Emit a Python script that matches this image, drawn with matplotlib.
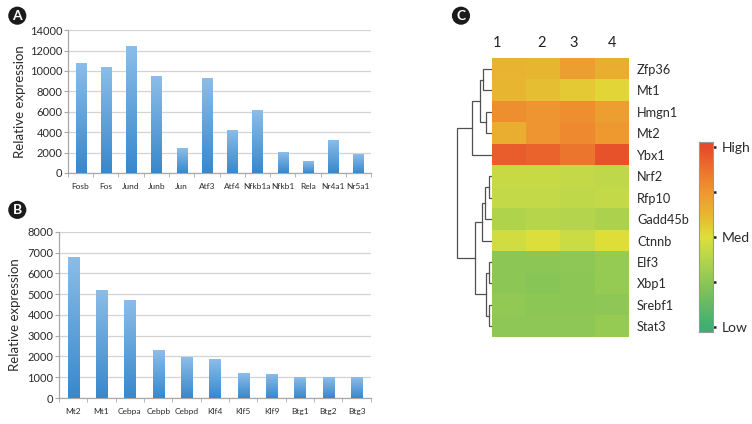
import matplotlib
matplotlib.use('Agg')
import matplotlib.pyplot as plt
import numpy as np
from matplotlib.colors import LinearSegmentedColormap

# panel A
genes_a = ['Fosb', 'Fos', 'Jund', 'Junb', 'Jun', 'Atf3', 'Atf4', 'Nfkb1a', 'Nfkb1', 'Rela', 'Nr4a1', 'Nr5a1']
expr_a = [10800, 10400, 12450, 9500, 2400, 9300, 4250, 6150, 2050, 1150, 3250, 1850]

# panel B
genes_b = ['Mt2', 'Mt1', 'Cebpa', 'Cebpb', 'Cebpd', 'Klf4', 'Klf5', 'Klf9', 'Btg1', 'Btg2', 'Btg3']
expr_b = [6800, 5200, 4720, 2300, 1950, 1860, 1200, 1160, 1000, 1000, 990]

# panel C heatmap (0 = low, 1 = high)
heat_genes = ['Zfp36', 'Mt1', 'Hmgn1', 'Mt2', 'Ybx1', 'Nrf2', 'Rfp10', 'Gadd45b',
              'Ctnnb', 'Elf3', 'Xbp1', 'Srebf1', 'Stat3']
heat_cols = ['1', '2', '3', '4']
heat_vals = [
    [0.64, 0.63, 0.72, 0.66],
    [0.63, 0.60, 0.57, 0.53],
    [0.78, 0.76, 0.78, 0.72],
    [0.66, 0.76, 0.80, 0.74],
    [0.94, 0.92, 0.86, 0.97],
    [0.43, 0.43, 0.42, 0.41],
    [0.42, 0.42, 0.41, 0.42],
    [0.36, 0.38, 0.37, 0.35],
    [0.46, 0.49, 0.44, 0.50],
    [0.25, 0.25, 0.26, 0.28],
    [0.25, 0.24, 0.25, 0.28],
    [0.27, 0.25, 0.25, 0.26],
    [0.26, 0.26, 0.26, 0.28],
]
# row clustering: (left node, right node, distance); new nodes numbered from 13 on
linkage = [
    (0, 1, 0.26),     # 13
    (2, 3, 0.17),     # 14
    (13, 14, 0.34),   # 15
    (15, 4, 0.57),    # 16
    (5, 6, 0.09),     # 17
    (17, 7, 0.20),    # 18
    (18, 8, 0.29),    # 19
    (9, 10, 0.09),    # 20
    (11, 12, 0.09),   # 21
    (20, 21, 0.17),   # 22
    (19, 22, 0.49),   # 23
    (16, 23, 1.00),   # 24
]
legend_ticks = [0, 0.25, 0.5, 0.75, 1]
legend_labels = ['Low', '', 'Med', '', 'High']

BAR_TOP = '#8cbde8'
BAR_BOTTOM = '#3888cc'
GRID = '#d4d4d4'
AXIS = '#a8a8a8'
TEXT = '#2a2a2a'

plt.rcParams['font.family'] = ['Lato', 'DejaVu Sans']

fig = plt.figure(figsize=(7.52, 4.24), dpi=100)
grad_cmap = LinearSegmentedColormap.from_list('bar', [BAR_BOTTOM, BAR_TOP])


def bar_panel(rect, genes, values, ymax, step, labelpad):
    ax = fig.add_axes(rect)
    x = np.arange(len(genes))
    bars = ax.bar(x, values, width=0.4, color=BAR_BOTTOM, zorder=2)
    grad = np.linspace(0, 1, 100).reshape(-1, 1)
    for b in bars:
        im = ax.imshow(grad, cmap=grad_cmap, origin='lower', aspect='auto',
                       extent=[b.get_x(), b.get_x() + b.get_width(), 0, b.get_height()],
                       zorder=3)
        im.set_clip_path(b)
    ax.set_xlim(-0.5, len(genes) - 0.5)
    ax.set_ylim(0, ymax)
    ax.set_yticks(np.arange(0, ymax + 1, step))
    ax.yaxis.grid(True, color=GRID, lw=0.9, zorder=0)
    ax.set_axisbelow(True)
    for s in ['top', 'right']:
        ax.spines[s].set_visible(False)
    for s in ['left', 'bottom']:
        ax.spines[s].set_color(AXIS)
        ax.spines[s].set_linewidth(0.9)
    ax.set_xticks(x)
    ax.set_xticklabels(genes, fontsize=6, color=TEXT)
    ax.set_xticks(np.arange(len(genes) + 1) - 0.5, minor=True)
    ax.tick_params(axis='x', which='major', length=0, pad=7)
    ax.tick_params(axis='x', which='minor', length=3, color=AXIS)
    ax.tick_params(axis='y', length=3, color=AXIS, labelsize=8, labelcolor=TEXT, pad=1)
    ax.set_ylabel('Relative expression', fontsize=9.5, color=TEXT, labelpad=labelpad)
    return ax


bar_panel([0.0904, 0.592, 0.403, 0.337], genes_a, expr_a, 14000, 2000, 3)
bar_panel([0.0785, 0.0613, 0.4145, 0.392], genes_b, expr_b, 8000, 1000, 5)

# panel letters
for lx, ly, letter in [(0.023, 0.963, 'A'), (0.023, 0.505, 'B'), (0.613, 0.963, 'C')]:
    fig.text(lx, ly, letter, color='white', fontsize=10, fontweight='bold',
             ha='center', va='center',
             bbox=dict(boxstyle='circle,pad=0.22', fc='#1b1b1b', ec='none'))

# heatmap
heat_cmap = LinearSegmentedColormap.from_list('heat', [
    (0.0, '#3fae70'), (0.25, '#8cc756'), (0.42, '#c4da48'), (0.5, '#dfdf3a'),
    (0.62, '#e8b830'), (0.78, '#ef9030'), (1.0, '#e84a2a')])
axh = fig.add_axes([0.654, 0.205, 0.182, 0.658])
axh.imshow(np.array(heat_vals), cmap=heat_cmap, vmin=0, vmax=1, aspect='auto')
axh.set_yticks(range(len(heat_genes)))
axh.set_yticklabels(heat_genes, fontsize=9.2, color=TEXT)
axh.yaxis.tick_right()
axh.set_xticks([-0.35, 0.96, 1.9, 3.0])
axh.set_xticklabels(heat_cols, fontsize=10.5, color='#222222')
axh.xaxis.tick_top()
axh.tick_params(length=0, pad=6)
for s in axh.spines.values():
    s.set_visible(False)

# dendrogram
axd = fig.add_axes([0.6064, 0.205, 0.0476, 0.658])
n_leaf = len(heat_genes)
node_y = {i: float(i) for i in range(n_leaf)}
node_d = {i: 0.0 for i in range(n_leaf)}
for k, (a, b, d) in enumerate(linkage):
    node = n_leaf + k
    axd.plot([node_d[a], d, d, node_d[b]], [node_y[a], node_y[a], node_y[b], node_y[b]],
             color='#505050', lw=0.9, solid_joinstyle='miter')
    node_y[node] = (node_y[a] + node_y[b]) / 2
    node_d[node] = d
axd.set_xlim(1.02, 0)
axd.set_ylim(n_leaf - 0.5, -0.5)
axd.axis('off')

# colour key
cax = fig.add_axes([0.9295, 0.217, 0.0186, 0.448])
ramp = np.linspace(-0.025, 1.025, 256).reshape(-1, 1)
cax.imshow(ramp, cmap=heat_cmap, vmin=0, vmax=1, origin='lower', aspect='auto',
           extent=[0, 1, -0.025, 1.025])
cax.set_xlim(0, 1)
cax.set_ylim(-0.025, 1.025)
cax.set_xticks([])
cax.yaxis.tick_right()
cax.set_yticks(legend_ticks)
cax.set_yticklabels(legend_labels)
for s in cax.spines.values():
    s.set_edgecolor('#999999')
    s.set_linewidth(0.8)
cax.tick_params(length=2.5, width=1.8, color='#222222', labelsize=10, labelcolor=TEXT, pad=4)

fig.savefig('out.png', dpi=100)
